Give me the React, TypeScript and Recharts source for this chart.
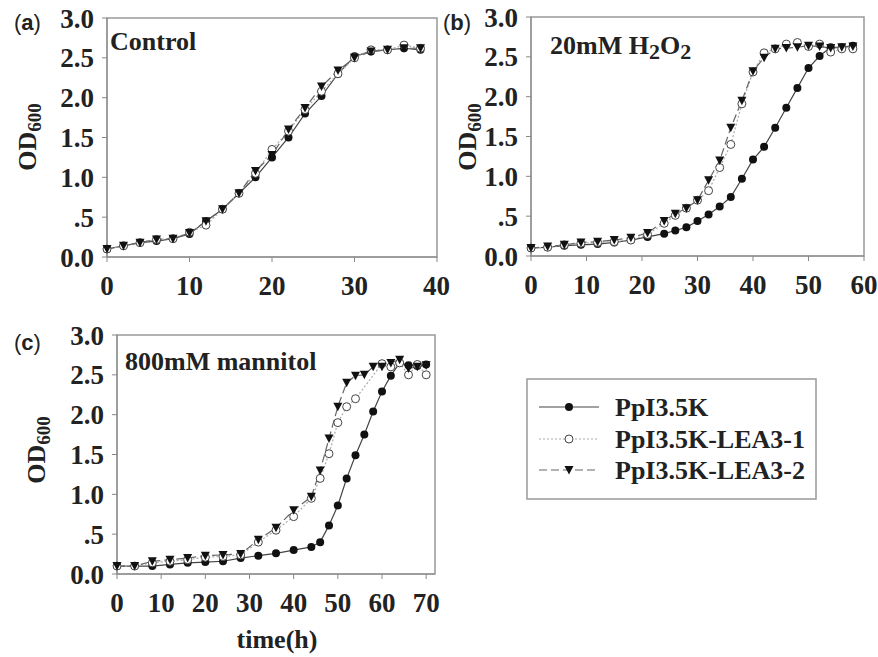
import { LineChart, Line, XAxis, YAxis, ReferenceArea } from 'recharts'

// (a) Control
const aTime = [0, 2, 4, 6, 8, 10, 12, 14, 16, 18, 20, 22, 24, 26, 28, 30, 32, 34, 36, 38]
const aPp = [0.10, 0.14, 0.18, 0.20, 0.23, 0.29, 0.45, 0.60, 0.80, 1.00, 1.25, 1.50, 1.80, 2.02, 2.30, 2.52, 2.58, 2.60, 2.62, 2.60]
const aL1 = [0.10, 0.14, 0.18, 0.22, 0.23, 0.31, 0.40, 0.60, 0.80, 1.05, 1.35, 1.58, 1.85, 2.08, 2.30, 2.50, 2.60, 2.60, 2.66, 2.62]
const aL2 = [0.10, 0.14, 0.18, 0.22, 0.23, 0.30, 0.45, 0.60, 0.80, 1.08, 1.28, 1.60, 1.87, 2.14, 2.34, 2.50, 2.58, 2.60, 2.62, 2.62]

// (b) 20mM H2O2
const bTime = [0, 3, 6, 9, 12, 15, 18, 21, 24, 26, 28, 30, 32, 34, 36, 38, 40, 42, 44, 46, 48, 50, 52, 54, 56, 58]
const bPp = [0.10, 0.11, 0.13, 0.14, 0.15, 0.17, 0.20, 0.24, 0.28, 0.32, 0.36, 0.44, 0.52, 0.62, 0.74, 0.97, 1.21, 1.37, 1.61, 1.86, 2.11, 2.36, 2.51, 2.62, 2.62, 2.64]
const bL1 = [0.10, 0.11, 0.14, 0.16, 0.17, 0.18, 0.20, 0.27, 0.41, 0.51, 0.60, 0.70, 0.82, 1.11, 1.40, 1.91, 2.31, 2.55, 2.60, 2.66, 2.68, 2.63, 2.66, 2.56, 2.60, 2.60]
const bL2 = [0.10, 0.12, 0.14, 0.17, 0.18, 0.20, 0.23, 0.29, 0.44, 0.53, 0.60, 0.70, 0.95, 1.20, 1.61, 1.95, 2.32, 2.49, 2.60, 2.61, 2.62, 2.64, 2.63, 2.61, 2.62, 2.63]

// (c) 800mM mannitol
const cTime = [0, 4, 8, 12, 16, 20, 24, 28, 32, 36, 40, 44, 46, 48, 50, 52, 54, 56, 58, 60, 62, 64, 66, 68, 70]
const cPp = [0.10, 0.10, 0.10, 0.12, 0.14, 0.15, 0.16, 0.20, 0.23, 0.26, 0.30, 0.34, 0.40, 0.61, 0.86, 1.20, 1.49, 1.75, 2.04, 2.29, 2.49, 2.65, 2.62, 2.61, 2.63]
const cL1Time = [0, 4, 8, 12, 16, 20, 24, 28, 32, 36, 40, 44, 46, 48, 50, 52, 54, 60, 62, 64, 66, 68, 70]
const cL1 = [0.10, 0.10, 0.14, 0.16, 0.18, 0.21, 0.22, 0.24, 0.40, 0.55, 0.72, 0.95, 1.20, 1.51, 1.90, 2.10, 2.20, 2.64, 2.60, 2.65, 2.50, 2.63, 2.50]
const cL2 = [0.10, 0.10, 0.16, 0.18, 0.20, 0.23, 0.24, 0.25, 0.43, 0.58, 0.80, 0.97, 1.30, 1.70, 2.10, 2.40, 2.49, 2.50, 2.60, 2.60, 2.65, 2.69, 2.58, 2.60, 2.62]

const yTicks = [0, 0.5, 1, 1.5, 2, 2.5, 3]
const seriesNames = ['PpI3.5K', 'PpI3.5K-LEA3-1', 'PpI3.5K-LEA3-2']

const serif = 'Liberation Serif, Times New Roman, DejaVu Serif, serif'
const sans = 'Liberation Sans, Arial, sans-serif'

const toPts = (t: number[], v: number[]) => t.map((x, i) => ({ t: x, v: v[i] }))

const filledDot = (p: any) => <circle key={p.key ?? p.index} cx={p.cx} cy={p.cy} r={4} fill="#111" />
const openDot = (p: any) => <circle key={p.key ?? p.index} cx={p.cx} cy={p.cy} r={4} fill="#fff" stroke="#444" strokeWidth={1} />
const triDot = (p: any) => (
  <path key={p.key ?? p.index} d={`M${p.cx - 4.5},${p.cy - 4} L${p.cx + 4.5},${p.cy - 4} L${p.cx},${p.cy + 4.5} Z`} fill="#111" />
)

const lineStyles = [
  { stroke: '#444', dash: undefined, dot: filledDot },
  { stroke: '#aaa', dash: '2 2', dot: openDot },
  { stroke: '#666', dash: '8 4', dot: triDot },
]

const tickStyle = { fontSize: 27, fontWeight: 'bold', fill: '#222', style: { fontFamily: serif } }
const fmtY = (v: number) => (v === 0.5 ? '.5' : v.toFixed(1))

interface PanelProps {
  left: number
  top: number
  width: number
  height: number
  marginTop: number
  marginRight: number
  yWidth: number
  xMax: number
  xTicks: number[]
  data: { t: number; v: number }[][]
}

function Panel({ left, top, width, height, marginTop, marginRight, yWidth, xMax, xTicks, data }: PanelProps) {
  return (
    <div style={{ position: 'absolute', left, top }}>
      <LineChart width={width} height={height} margin={{ top: marginTop, right: marginRight, bottom: 0, left: 0 }}>
        <XAxis
          dataKey="t"
          type="number"
          domain={[0, xMax]}
          ticks={xTicks}
          allowDuplicatedCategory={false}
          height={height - marginTop - 239}
          tick={tickStyle}
          tickSize={5}
          tickMargin={14}
          stroke="#888"
        />
        <YAxis
          type="number"
          domain={[0, 3]}
          ticks={yTicks}
          width={yWidth}
          tick={tickStyle}
          tickFormatter={fmtY}
          tickSize={5}
          tickMargin={8}
          stroke="#888"
        />
        <ReferenceArea x1={0} x2={xMax} y1={0} y2={3} fill="none" stroke="#999" strokeWidth={1.5} />
        {data.map((d, i) => (
          <Line
            key={seriesNames[i]}
            data={d}
            dataKey="v"
            name={seriesNames[i]}
            stroke={lineStyles[i].stroke}
            strokeWidth={1.2}
            strokeDasharray={lineStyles[i].dash}
            dot={lineStyles[i].dot}
            activeDot={false}
            isAnimationActive={false}
          />
        ))}
      </LineChart>
    </div>
  )
}

function ODLabel({ x, y }: { x: number; y: number }) {
  return (
    <text transform={`rotate(-90 ${x} ${y})`} x={x} y={y} textAnchor="middle" style={{ fontFamily: serif }} fontWeight="bold" fontSize={26} fill="#222">
      OD<tspan fontSize={19} dy={5}>600</tspan>
    </text>
  )
}

export default function App() {
  return (
    <div style={{ position: 'absolute', left: 0, top: 0, width: 878, height: 657, background: '#fff', fontFamily: serif }}>
      <Panel left={0} top={0} width={450} height={300} marginTop={18} marginRight={13} yWidth={107} xMax={40}
        xTicks={[0, 10, 20, 30, 40]} data={[toPts(aTime, aPp), toPts(aTime, aL1), toPts(aTime, aL2)]} />
      <Panel left={440} top={0} width={438} height={300} marginTop={17} marginRight={14} yWidth={91} xMax={60}
        xTicks={[0, 10, 20, 30, 40, 50, 60]} data={[toPts(bTime, bPp), toPts(bTime, bL1), toPts(bTime, bL2)]} />
      <Panel left={0} top={300} width={450} height={357} marginTop={35} marginRight={15} yWidth={117} xMax={72}
        xTicks={[0, 10, 20, 30, 40, 50, 60, 70]} data={[toPts(cTime, cPp), toPts(cL1Time, cL1), toPts(cTime, cL2)]} />

      <svg width={878} height={657} style={{ position: 'absolute', left: 0, top: 0, pointerEvents: 'none' }}>
        <g style={{ fontFamily: sans }} fontSize={22} fill="#222">
          <text x={14} y={30}>(<tspan fontWeight="bold">a</tspan>)</text>
          <text x={443} y={30}>(<tspan fontWeight="bold">b</tspan>)</text>
          <text x={14} y={350}>(<tspan fontWeight="bold">c</tspan>)</text>
        </g>
        <g style={{ fontFamily: serif }} fontWeight="bold" fontSize={26} fill="#222">
          <text x={110} y={50}>Control</text>
          <text x={550} y={54}>20mM H<tspan dy={5} fontSize={22}>2</tspan><tspan dy={-5}>O</tspan><tspan dy={5} fontSize={22}>2</tspan></text>
          <text x={125} y={370}>800mM mannitol</text>
          <text x={277} y={648} textAnchor="middle">time(h)</text>
        </g>
        <ODLabel x={36} y={137} />
        <ODLabel x={476} y={137} />
        <ODLabel x={45} y={450} />

        <rect x={527} y={379} width={289} height={120} fill="#fff" stroke="#999" strokeWidth={1.5} />
        {seriesNames.map((name, i) => {
          const y = [407, 439, 470][i]
          return (
            <g key={name}>
              <line x1={539} x2={599} y1={y} y2={y} stroke={lineStyles[i].stroke} strokeWidth={1.2} strokeDasharray={lineStyles[i].dash} />
              {lineStyles[i].dot({ cx: 569, cy: y, key: name })}
              <text x={615} y={y + 9} style={{ fontFamily: serif }} fontWeight="bold" fontSize={26} fill="#222">{name}</text>
            </g>
          )
        })}
      </svg>
    </div>
  )
}
